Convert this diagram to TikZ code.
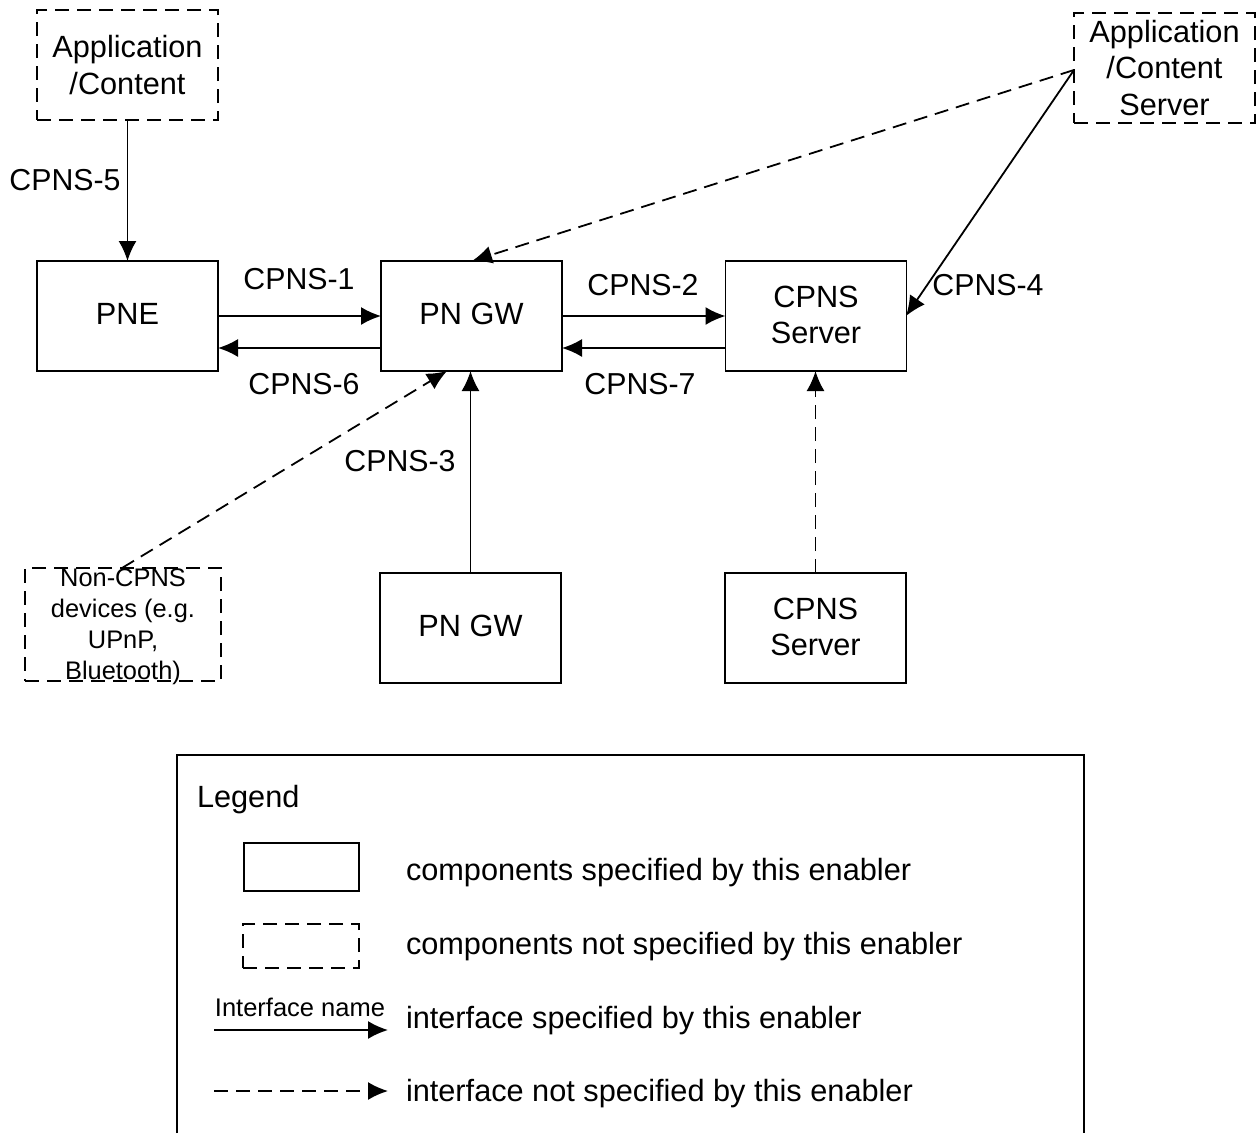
\documentclass[tikz,border=0pt]{standalone}
\usepackage{fontspec}
\setmainfont{Liberation Sans}
\usetikzlibrary{arrows.meta}
\tikzset{
  x=1pt,y=-1pt,
  every node/.style={inner sep=0pt,outer sep=0pt},
  box/.style={draw,line width=1.5pt,minimum width=181pt,minimum height=110pt},
  dbox/.style={box,dash pattern=on 14pt off 8pt},
  basetext/.style={align=center,font=\fontsize{30.7}{36.5}\selectfont},
  boxtext/.style={basetext,yshift=2pt},
  twotext/.style={basetext,yshift=1pt},
  nontext/.style={align=center,font=\fontsize{25.4}{31}\selectfont,yshift=-2pt},
  lab/.style={font=\fontsize{30.3}{36}\selectfont,anchor=base},
  txt/.style={font=\fontsize{30.7}{36}\selectfont,anchor=base west},
  conn/.style={line width=1.8pt,-{Latex[length=20pt,width=18pt]}},
  dconn/.style={conn,dash pattern=on 14pt off 8pt},
}
\begin{document}
\begin{tikzpicture}
\useasboundingbox (0,0) rectangle (1256,1133);
% boxes
\node[dbox,label={[basetext]center:{Application\\/Content}}] (app) at (127.5,65) {};
\node[dbox,label={[basetext]center:{Application\\/Content\\Server}}] (srvapp) at (1164.5,68) {};
\node[box,label={[boxtext]center:PNE}] (pne) at (127.5,316) {};
\node[box,label={[boxtext]center:PN GW}] (gw) at (471.5,316) {};
\node[box,label={[twotext]center:{CPNS\\Server}}] (srv) at (816,316) {};
\node[box,label={[boxtext]center:PN GW}] (gwb) at (470.5,628) {};
\node[box,label={[twotext]center:{CPNS\\Server}}] (srvb) at (815.5,628) {};
\node[dbox,minimum width=196pt,minimum height=113pt,label={[nontext]center:{Non-CPNS\\devices (e.g.\\UPnP,\\Bluetooth)}}] (non) at (123,624.5) {};
% connector ends
\coordinate (appe) at (1074,70);
\coordinate (srve) at (906,316);
\coordinate (gwt) at (472,261);
\coordinate (gwbl) at (447,371);
\coordinate (nont) at (122,568);
% connectors
\draw[conn] (app.south) -- (pne.north);
\draw[conn] (pne.east) -- (gw.west);
\draw[conn] ([yshift=-32pt]gw.west) -- ([yshift=-32pt]pne.east);
\draw[conn] (gw.east) -- (srv.west);
\draw[conn] ([yshift=-32pt]srv.west) -- ([yshift=-32pt]gw.east);
\draw[conn] (gwb.north) -- (gwb.north |- gw.south);
\draw[dconn] (srvb.north) -- (srvb.north |- srv.south);
\draw[dconn] (appe) -- (gwt);
\draw[conn] (appe) -- (srve);
\draw[dconn] (nont) -- (gwbl);
% labels
\node[lab] (l5) at (65,190) {CPNS-5};
\node[lab] (l1) at (299,289) {CPNS-1};
\node[lab] (l6) at (304,394) {CPNS-6};
\node[lab] (l2) at (643,295) {CPNS-2};
\node[lab] (l7) at (640,394) {CPNS-7};
\node[lab] (l3) at (400,471) {CPNS-3};
\node[lab] (l4) at (988,295) {CPNS-4};
% legend
\coordinate (lga) at (177,1133);
\coordinate (lgb) at (177,755);
\coordinate (lgc) at (1084,755);
\coordinate (lgd) at (1084,1133);
\draw[line width=1.5pt] (lga) -- (lgb) -- (lgc) -- (lgd);
\node[txt] (lgt) at (197,807) {Legend};
\node[box,minimum width=115pt,minimum height=48pt] (ls) at (301.5,867) {};
\node[dbox,minimum width=116pt,minimum height=44pt] (ld) at (301,946) {};
\node[txt] (t1) at (406,880) {components specified by this enabler};
\node[txt] (t2) at (406,954) {components not specified by this enabler};
\node[txt] (t3) at (406,1028) {interface specified by this enabler};
\node[txt] (t4) at (406,1101) {interface not specified by this enabler};
\node[font=\fontsize{25.5}{30}\selectfont,anchor=base] (ifn) at (300,1016) {Interface name};
\coordinate (a1) at (214,1030);
\coordinate (a2) at (388,1030);
\coordinate (b1) at (214,1091);
\coordinate (b2) at (388,1091);
\draw[conn] (a1) -- (a2);
\draw[dconn] (b1) -- (b2);
\end{tikzpicture}
\end{document}
